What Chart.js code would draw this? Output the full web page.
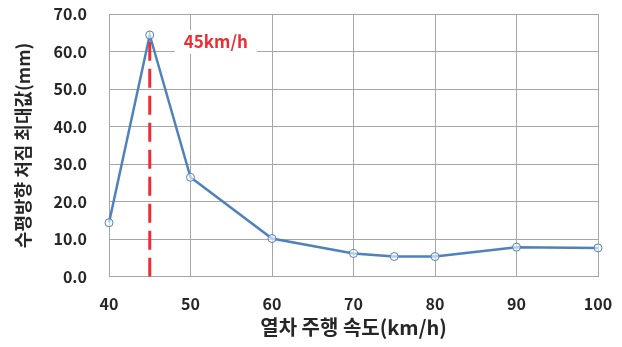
<!DOCTYPE html>
<html>
<head>
<meta charset="utf-8">
<script src="https://cdn.jsdelivr.net/npm/chart.js@4/dist/chart.umd.min.js"></script>
<style>
  html, body { margin: 0; padding: 0; background: #fff; }
  #wrap { width: 622px; height: 347px; }
</style>
</head>
<body>
<div id="wrap"><canvas id="deflectionChart"></canvas></div>
<script>
// train speed (km/h) and max lateral deflection (mm)
const speeds = [40, 45, 50, 60, 70, 75, 80, 90, 100];
const deflections = [14.4, 64.4, 26.5, 10.2, 6.2, 5.4, 5.4, 7.9, 7.7];
const yTicks = [0, 10, 20, 30, 40, 50, 60, 70];
const xTicks = [40, 50, 60, 70, 80, 90, 100];

// critical speed marker
const criticalSpeed = 45;
const criticalLabel = '45km/h';

const FONT = '"Noto Sans CJK KR", "Noto Sans", sans-serif';
const TEXT = '#262626';
const GRID = '#a6a6a6';
const RED = '#ec2d33';

const points = speeds.map((s, i) => ({ x: s, y: deflections[i] }));
const peak = deflections[speeds.indexOf(criticalSpeed)];

// label next to the dashed line, with a white box behind it
const labelPlugin = {
  id: 'criticalLabel',
  afterDatasetsDraw(chart) {
    const { ctx, scales } = chart;
    const x = scales.x.getPixelForValue(criticalSpeed) + 66;
    const y = scales.y.getPixelForValue(peak) + 7;
    ctx.save();
    ctx.font = 'bold 17px ' + FONT;
    const w = ctx.measureText(criticalLabel).width;
    ctx.fillStyle = '#fff';
    ctx.fillRect(x - w / 2 - 9, y - 12, w + 18, 24);
    ctx.fillStyle = RED;
    ctx.textAlign = 'center';
    ctx.textBaseline = 'middle';
    ctx.fillText(criticalLabel, x, y);
    ctx.restore();
  }
};

new Chart(document.getElementById('deflectionChart'), {
  type: 'scatter',
  data: {
    datasets: [
      {
        data: points,
        showLine: true,
        clip: false,
        borderColor: '#4f81bd',
        borderWidth: 2.5,
        pointRadius: 4,
        pointBorderWidth: 1,
        pointBackgroundColor: 'rgba(255,255,255,0.6)',
        pointBorderColor: '#4f81bd',
        order: 2
      },
      {
        data: [{ x: criticalSpeed, y: 0 }, { x: criticalSpeed, y: peak - 0.6 }],
        showLine: true,
        borderColor: RED,
        borderWidth: 3,
        borderDash: [19, 8],
        pointRadius: 0,
        order: 1
      }
    ]
  },
  options: {
    responsive: true,
    maintainAspectRatio: false,
    animation: false,
    layout: { padding: { top: 14, right: 24, left: 0, bottom: 8 } },
    plugins: { legend: { display: false }, tooltip: { enabled: false } },
    scales: {
      x: {
        type: 'linear',
        min: 40,
        max: 100,
        afterBuildTicks(scale) { scale.ticks = xTicks.map(v => ({ value: v })); },
        afterFit(scale) { scale.paddingLeft = 0; scale.paddingRight = 0; },
        grid: { color: GRID, drawTicks: false },
        border: { color: GRID },
        ticks: {
          padding: 18,
          color: TEXT,
          font: { family: FONT, size: 16, weight: 'bold' }
        },
        title: {
          display: true,
          text: '열차 주행 속도(km/h)',
          color: TEXT,
          padding: { top: -17, bottom: 0 },
          font: { family: FONT, size: 20, weight: 'bold' }
        }
      },
      y: {
        min: 0,
        max: 70,
        afterBuildTicks(scale) { scale.ticks = yTicks.map(v => ({ value: v })); },
        afterFit(scale) {
          scale.width = 109;
          scale.paddingTop = 0;
          scale.paddingBottom = 0;
        },
        grid: { color: GRID, drawTicks: false },
        border: { color: GRID },
        ticks: {
          padding: 22,
          color: TEXT,
          font: { family: FONT, size: 16, weight: 'bold' },
          callback: v => v.toFixed(1)
        },
        title: {
          display: true,
          text: '수평방향 처짐 최대값(mm)',
          color: TEXT,
          padding: { top: 12, bottom: 0 },
          font: { family: FONT, size: 18, weight: 'bold' }
        }
      }
    }
  },
  plugins: [labelPlugin]
});
</script>
</body>
</html>
